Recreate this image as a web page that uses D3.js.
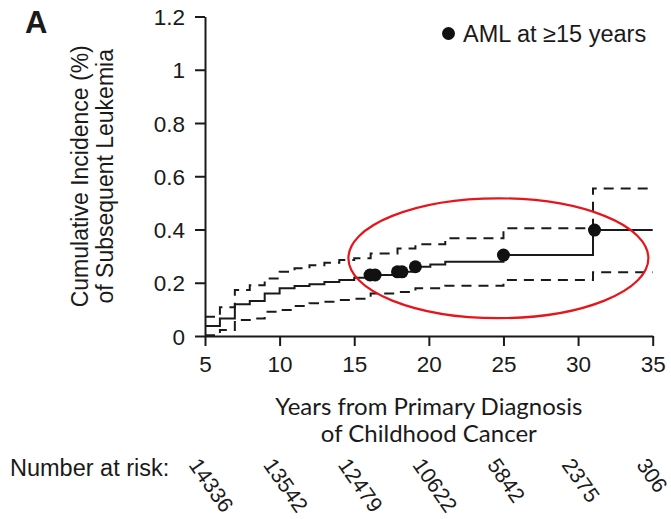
<!DOCTYPE html>
<html>
<head>
<meta charset="utf-8">
<script src="https://cdn.jsdelivr.net/npm/d3@7"></script>
<style>
  body { margin: 0; background: #fff; }
  text { font-family: "Liberation Sans", Arial, sans-serif; fill: #1a1a1a; }
  .calib { font-family: Lato, "Open Sans", sans-serif; }
</style>
</head>
<body>
<svg width="671" height="519"></svg>
<script>
// cumulative incidence step curve (value holds from time until next time)
var est_times  = [5, 6, 7, 8, 9, 10, 11, 12, 13, 14, 15, 16.1, 17.9, 19.1, 20.1, 21.1, 25, 31];
var est_values = [0.0375, 0.066, 0.119, 0.131, 0.16, 0.179, 0.188, 0.194, 0.203, 0.21, 0.219, 0.229, 0.241, 0.26, 0.269, 0.279, 0.304, 0.398];

var upper_times  = [5, 6, 7, 8, 9, 10, 11, 12, 13, 14, 15, 16.1, 17.9, 19.1, 21.1, 25, 31];
var upper_values = [0.072, 0.108, 0.173, 0.191, 0.216, 0.241, 0.254, 0.266, 0.275, 0.285, 0.292, 0.31, 0.329, 0.345, 0.367, 0.405, 0.554];

var lower_times  = [5, 6, 7, 8, 9, 10, 11, 12, 13, 14, 15, 16.1, 17.9, 19.1, 21.1, 25, 31];
var lower_values = [0.003, 0.0225, 0.06, 0.066, 0.091, 0.098, 0.113, 0.123, 0.129, 0.135, 0.14, 0.16, 0.165, 0.179, 0.189, 0.21, 0.239];

// AML events at >=15 years
var aml_times  = [16.06, 16.4, 17.9, 18.2, 19.1, 25.0, 31.1];
var aml_values = [0.229, 0.229, 0.241, 0.241, 0.26, 0.304, 0.398];

var x_ticks = [5, 10, 15, 20, 25, 30, 35];
var y_ticks = [0, 0.2, 0.4, 0.6, 0.8, 1, 1.2];
var at_risk = [14336, 13542, 12479, 10622, 5842, 2375, 306];

// highlight ellipse, in data units
var ring = { cx: 24.66, cy: 0.292, rx: 10.05, ry: 0.225 };

var svg = d3.select("svg");

var x = d3.scaleLinear().domain([5, 35]).range([205, 652.7]);
var y = d3.scaleLinear().domain([0, 1.2]).range([336, 16.5]);

// axes
let xAxis = svg.append("g")
    .attr("transform", "translate(0," + y(0) + ")")
    .call(d3.axisBottom(x).tickValues(x_ticks).tickSize(10).tickPadding(6).tickSizeOuter(0));
let yAxis = svg.append("g")
    .attr("transform", "translate(" + x(5) + ",0)")
    .call(d3.axisLeft(y).tickValues(y_ticks).tickSize(10).tickPadding(10).tickSizeOuter(0)
        .tickFormat(d => d3.format("")(d)));

[xAxis, yAxis].forEach(function(a) {
    a.select(".domain").attr("stroke", "#1a1a1a").attr("stroke-width", 2);
    a.selectAll(".tick line").attr("stroke", "#1a1a1a").attr("stroke-width", 2);
    a.selectAll(".tick text")
        .attr("fill", "#1a1a1a")
        .style("font-family", "'Liberation Sans', Arial, sans-serif")
        .style("font-size", "22.5px");
});
xAxis.selectAll(".tick text").attr("dy", "0.88em");
yAxis.selectAll(".tick text").attr("dy", "0.36em");

// step curves
function stepData(times, values) {
    let pts = times.map((t, i) => [t, values[i]]);
    pts.push([35, values[values.length - 1]]);
    return pts;
}
let line = d3.line()
    .x(d => x(d[0]))
    .y(d => y(d[1]))
    .curve(d3.curveStepAfter);

svg.append("path")
    .datum(stepData(upper_times, upper_values))
    .attr("d", line)
    .attr("fill", "none")
    .attr("stroke", "#1a1a1a")
    .attr("stroke-width", 2)
    .attr("stroke-dasharray", "10,7");

svg.append("path")
    .datum(stepData(lower_times, lower_values))
    .attr("d", line)
    .attr("fill", "none")
    .attr("stroke", "#1a1a1a")
    .attr("stroke-width", 2)
    .attr("stroke-dasharray", "10,7");

svg.append("path")
    .datum(stepData(est_times, est_values))
    .attr("d", line)
    .attr("fill", "none")
    .attr("stroke", "#1a1a1a")
    .attr("stroke-width", 2);

svg.selectAll("circle.aml")
    .data(aml_times)
    .enter()
    .append("circle")
        .attr("class", "aml")
        .attr("cx", d => x(d))
        .attr("cy", (d, i) => y(aml_values[i]))
        .attr("r", 6.5)
        .attr("fill", "#111");

// red highlight
svg.append("ellipse")
    .attr("cx", x(ring.cx))
    .attr("cy", y(ring.cy))
    .attr("rx", x(ring.cx + ring.rx) - x(ring.cx))
    .attr("ry", y(ring.cy) - y(ring.cy + ring.ry))
    .attr("fill", "none")
    .attr("stroke", "#e8141b")
    .attr("stroke-width", 2.2);

// legend
svg.append("circle").attr("cx", 448.5).attr("cy", 33.5).attr("r", 6.5).attr("fill", "#111");
svg.append("text")
    .attr("x", 463)
    .attr("y", 41.5)
    .style("font-size", "23.5px")
    .text("AML at \u226515 years");

// panel letter
svg.append("text")
    .attr("x", 25)
    .attr("y", 33)
    .style("font-size", "31px")
    .style("font-weight", "bold")
    .text("A");

// y title
let yt = svg.append("text")
    .attr("transform", "translate(88," + y(0.6) + ") rotate(-90)")
    .attr("text-anchor", "middle")
    .style("font-size", "23px");
yt.append("tspan").attr("x", 0).attr("y", 0).text("Cumulative Incidence (%)");
yt.append("tspan").attr("x", 0).attr("y", 25).text("of Subsequent Leukemia");

// x title
let xt = svg.append("text")
    .attr("class", "calib")
    .attr("text-anchor", "middle")
    .style("font-size", "24px");
xt.append("tspan").attr("x", x(20)).attr("y", 415).text("Years from Primary Diagnosis");
xt.append("tspan").attr("x", x(20)).attr("y", 442).text("of Childhood Cancer");

// number at risk
svg.append("text")
    .attr("x", 10)
    .attr("y", 476)
    .style("font-size", "23.5px")
    .text("Number at risk:");

svg.selectAll("text.risk")
    .data(at_risk)
    .enter()
    .append("text")
        .attr("class", "risk")
        .style("font-size", "21.5px")
        .attr("transform", (d, i) => "translate(" + (x(x_ticks[i]) - 17) + ",465) rotate(55)")
        .text(d => d);
</script>
</body>
</html>
